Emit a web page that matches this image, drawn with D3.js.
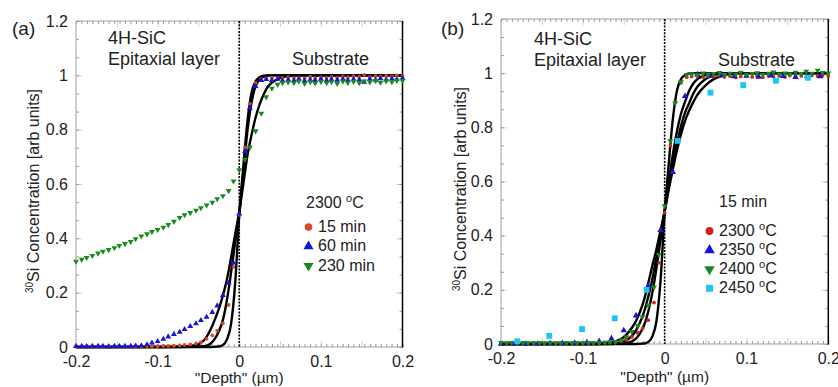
<!DOCTYPE html>
<meta charset="utf-8">
<script src="https://d3js.org/d3.v7.min.js"></script>
<body>
    <div id="viz"></div>
</body>
<style>
    body { margin: 0; background: #fff; }
    text { font-family: "Liberation Sans", Arial, sans-serif; fill: #222; }
</style>
<script>
    // depth grid of the dense SIMS profiles (µm)
    let depth = [-0.2, -0.193, -0.187, -0.18, -0.173, -0.167, -0.16, -0.153, -0.147, -0.14,
        -0.133, -0.127, -0.12, -0.113, -0.107, -0.1, -0.093, -0.087, -0.08, -0.073,
        -0.067, -0.06, -0.053, -0.047, -0.04, -0.033, -0.027, -0.02, -0.013, -0.007,
        0,
        0.007, 0.013, 0.02, 0.027, 0.033, 0.04, 0.047, 0.053, 0.06,
        0.067, 0.073, 0.08, 0.087, 0.093, 0.1, 0.107, 0.113, 0.12, 0.127,
        0.133, 0.14, 0.147, 0.153, 0.16, 0.167, 0.173, 0.18, 0.187, 0.193,
        0.2];

    // (a) 2300 °C, annealing time
    let a15 = [0.002,0.002,0.002,0.002,0.002,0.002,0.002,0.002,0.002,0.002,
        0.002,0.002,0.002,0.003,0.003,0.003,0.004,0.004,0.005,0.006,
        0.008,0.01,0.013,0.018,0.03,0.043,0.06,0.087,0.155,0.295,
        0.487,
        0.735,0.895,0.972,0.987,0.99,0.992,0.988,0.99,0.993,
        0.99,0.992,0.989,0.995,0.99,0.993,0.991,0.994,0.992,0.996,
        0.993,0.997,0.995,1.002,0.994,0.997,0.995,0.998,0.996,1.0,
        0.998];
    let a60 = [0.003,0.003,0.002,0.003,0.003,0.003,0.002,0.003,0.003,0.003,
        0.003,0.004,0.005,0.009,0.015,0.021,0.029,0.038,0.047,0.055,
        0.065,0.076,0.086,0.098,0.11,0.128,0.152,0.19,0.235,0.31,
        0.49,
        0.72,0.88,0.96,0.982,0.985,0.982,0.986,0.98,0.984,
        0.981,0.986,0.98,0.984,0.982,0.986,0.981,0.985,0.983,0.987,
        0.982,0.985,0.984,0.975,0.986,0.983,0.988,0.984,0.987,0.985,
        0.99];
    let a230 = [0.315,0.322,0.329,0.336,0.345,0.352,0.358,0.365,0.373,0.38,
        0.388,0.398,0.408,0.416,0.424,0.432,0.44,0.45,0.462,0.476,
        0.486,0.494,0.503,0.512,0.522,0.532,0.545,0.556,0.575,0.61,
        0.652,
        0.69,0.735,0.795,0.86,0.92,0.952,0.966,0.972,0.975,
        0.972,0.978,0.97,0.976,0.971,0.977,0.972,0.976,0.97,0.978,
        0.973,0.977,0.972,0.978,0.975,0.98,0.974,0.979,0.976,0.981,
        0.98];

    // (b) 15 min, annealing temperature
    let b2300 = [0.004,0.003,0.003,0.004,0.003,0.003,0.004,0.003,0.003,0.004,
        0.003,0.003,0.004,0.003,0.003,0.004,0.003,0.004,0.004,0.005,
        0.006,0.007,0.01,0.016,0.026,0.042,0.057,0.088,0.153,0.3,
        0.485,
        0.732,0.892,0.965,0.985,0.988,0.99,0.985,0.99,0.987,
        0.991,0.986,0.989,0.984,0.988,0.99,0.986,0.989,0.985,0.99,
        0.987,0.99,0.986,0.991,0.988,0.99,0.987,0.992,0.989,0.991,
        0.99];
    let depth2350 = [-0.2,-0.185,-0.17,-0.155,-0.14,-0.125,-0.11,-0.095,-0.08,-0.065,
        -0.05,-0.035,-0.02,-0.005,0.01,0.025,0.04,0.055,0.07,0.085,
        0.1,0.115,0.13,0.145,0.16,0.175,0.19];
    let b2350 = [0,0,0,0.001,0.002,0.003,0.004,0.006,0.01,0.02,
        0.05,0.105,0.215,0.42,0.635,0.915,0.995,0.99,0.992,0.988,
        0.99,0.986,0.991,0.989,0.985,0.99,0.988];
    let b2400 = [0.005,0.004,0.005,0.004,0.005,0.004,0.004,0.005,0.004,0.005,
        0.004,0.004,0.005,0.004,0.005,0.004,0.005,0.004,0.005,0.006,
        0.007,0.008,0.014,0.026,0.045,0.068,0.1,0.143,0.21,0.33,
        0.51,
        0.75,0.89,0.968,0.993,0.997,0.993,1.0,0.995,0.998,
        1.002,0.994,0.999,0.996,1.003,0.995,0.998,1.001,0.994,0.999,
        1.004,0.996,1.0,0.997,1.003,0.998,1.006,0.999,1.01,1.002,
        1.0];
    let depth2450 = [-0.18,-0.141,-0.101,-0.061,-0.022,0.016,0.056,0.096,0.136,0.175];
    let b2450 = [0.01,0.03,0.055,0.095,0.2,0.75,0.928,0.956,0.972,0.983];

    // fitted profiles (black lines)
    let fitDepth = [-0.2, -0.1, -0.08, -0.07, -0.06, -0.05, -0.04, -0.035, -0.03, -0.025,
        -0.02, -0.015, -0.01, -0.005, 0, 0.005, 0.01, 0.015, 0.02, 0.025,
        0.03, 0.035, 0.04, 0.05, 0.06, 0.07, 0.08, 0.1, 0.2];
    let fitA15 = [0,0,0,0,0,0,0,0,0.001,0.002,0.007,0.028,0.085,0.235,0.485,
        0.665,0.83,0.935,0.978,0.993,0.999,1,1,1,1,1,1,1,1];
    let fitA60 = [0,0,0,0,0.001,0.002,0.005,0.013,0.03,0.058,0.1,0.175,0.275,0.385,0.488,
        0.64,0.795,0.9,0.96,0.985,0.995,0.999,1,1,1,1,1,1,1];
    let fitA230 = [0,0,0.001,0.002,0.004,0.01,0.037,0.065,0.1,0.14,0.19,0.25,0.33,0.415,0.5,
        0.6,0.705,0.78,0.845,0.893,0.93,0.958,0.973,0.99,0.997,1,1,1,1];
    let fitB2300 = [0,0,0,0,0,0,0,0,0.001,0.002,0.007,0.028,0.085,0.235,0.485,
        0.665,0.83,0.935,0.978,0.993,0.999,1,1,1,1,1,1,1,1];
    let fitB2350 = [0,0,0,0,0.001,0.003,0.01,0.02,0.04,0.07,0.12,0.19,0.28,0.385,0.49,
        0.6,0.7,0.785,0.85,0.895,0.935,0.962,0.978,0.993,0.999,1,1,1,1];
    let fitB2400 = [0,0,0,0.001,0.002,0.009,0.03,0.05,0.08,0.12,0.175,0.24,0.32,0.405,0.49,
        0.58,0.665,0.74,0.805,0.855,0.89,0.925,0.95,0.978,0.993,0.999,1,1,1];
    let fitB2450 = [0,0,0.001,0.004,0.01,0.025,0.06,0.085,0.12,0.165,0.225,0.29,0.35,0.42,0.49,
        0.57,0.645,0.715,0.775,0.825,0.862,0.893,0.92,0.955,0.978,0.99,0.997,1,1];

    let yTicks = [0, 0.2, 0.4, 0.6, 0.8, 1, 1.2];
    let xTicks = [-0.2, -0.1, 0, 0.1, 0.2];
    let xMajorMarks = [-0.15, -0.1, -0.05, 0, 0.05, 0.1, 0.15];
    let legendTimes = ["15 min", "60 min", "230 min"];
    let legendTemps = ["2300", "2350", "2400", "2450"];

    let svg = d3.select("#viz")
        .append("svg")
        .attr("width", 838)
        .attr("height", 387);

    let fmt = d => d3.format("~g")(d).replace("\u2212", "-");

    function drawPanel(p) {
        let x = d3.scaleLinear().domain([-0.2, 0.2]).range([p.left, p.right]);
        let y = d3.scaleLinear().domain([0, 1.2]).range([p.bottom, p.top]);
        let g = svg.append("g");

        let yMinor = d3.range(0, 1.2001, 0.2 / 3);
        let xMinor = d3.range(-0.2, 0.2001, 0.2 / 30);

        // inward ticks on all four sides
        let sides = [
            [d3.axisLeft(y), yMinor, yTicks, `translate(${p.left},0)`],
            [d3.axisRight(y), yMinor, yTicks, `translate(${p.right},0)`],
            [d3.axisTop(x), xMinor, xMajorMarks, `translate(0,${p.top})`],
            [d3.axisBottom(x), xMinor, xMajorMarks, `translate(0,${p.bottom})`]
        ];
        sides.forEach(function(s) {
            let major = g.append("g").attr("transform", s[3])
                .call(s[0].tickValues(s[2]).tickSizeInner(-6).tickSizeOuter(0).tickFormat(""));
            major.select(".domain").remove();
            major.selectAll(".tick line").attr("stroke", "#d0d0d0");
            let minor = g.append("g").attr("transform", s[3])
                .call(s[0].tickValues(s[1]).tickSizeInner(-3).tickSizeOuter(0).tickFormat(""));
            minor.select(".domain").remove();
            minor.selectAll(".tick line").attr("stroke", "#9a9a9a");
        });

        // tick labels
        let yl = g.append("g").attr("transform", `translate(${p.left},0)`)
            .call(d3.axisLeft(y).tickValues(yTicks).tickSize(0).tickPadding(8).tickFormat(fmt));
        yl.select(".domain").remove();
        let xl = g.append("g").attr("transform", `translate(0,${p.bottom})`)
            .call(d3.axisBottom(x).tickValues(xTicks).tickSize(0).tickPadding(8.6).tickFormat(fmt));
        xl.select(".domain").remove();
        g.selectAll(".tick text")
            .attr("font-family", '"Liberation Sans", Arial, sans-serif')
            .style("font-size", "16px")
            .attr("fill", "#222");

        // frame: grey left/top/bottom, black right
        g.append("line").attr("x1", p.left).attr("x2", p.left).attr("y1", p.top).attr("y2", p.bottom)
            .attr("stroke", "#a0a0a0");
        g.append("line").attr("x1", p.left).attr("x2", p.right).attr("y1", p.top).attr("y2", p.top)
            .attr("stroke", "#a0a0a0");
        g.append("line").attr("x1", p.left).attr("x2", p.right).attr("y1", p.bottom).attr("y2", p.bottom)
            .attr("stroke", "#a0a0a0");
        g.append("line").attr("x1", p.right).attr("x2", p.right).attr("y1", p.top).attr("y2", p.bottom + 0.5)
            .attr("stroke", "#000").attr("stroke-width", 1.5);

        // interface marker
        g.append("line")
            .attr("x1", x(0)).attr("x2", x(0))
            .attr("y1", p.top).attr("y2", p.bottom)
            .attr("stroke", "#000").attr("stroke-width", 1.6)
            .attr("stroke-dasharray", "2,1.3");

        // fitted curves
        let line = d3.line()
            .x(d => x(d[0]))
            .y(d => y(d[1]))
            .curve(d3.curveMonotoneX);
        p.fits.forEach(function(f) {
            g.append("path")
                .datum(d3.zip(fitDepth, f))
                .attr("d", line)
                .attr("fill", "none")
                .attr("stroke", "#000")
                .attr("stroke-width", 2.4);
        });

        // measured points
        p.series.forEach(function(s) {
            g.append("g")
                .selectAll("path")
                .data(d3.zip(s.x, s.y))
                .enter()
                .append("path")
                    .attr("transform", d => `translate(${x(d[0])},${y(d[1])})` + (s.down ? " rotate(180)" : ""))
                    .attr("d", d3.symbol().type(s.type).size(s.size))
                    .attr("fill", s.color);
        });

        // axis titles
        g.append("text")
            .attr("x", x(0))
            .attr("y", p.xTitleY)
            .attr("text-anchor", "middle")
            .style("font-size", "15.5px")
            .text("\"Depth\" (\u00b5m)");
        let yt = g.append("text")
            .attr("transform", `translate(${p.yTitleX},${p.yTitleY}) rotate(-90)`)
            .attr("text-anchor", "middle")
            .style("font-size", "16px");
        yt.append("tspan").attr("dy", -6).style("font-size", "10px").text("30");
        yt.append("tspan").attr("dy", 6).text("Si Concentration [arb units]");

        // panel letter and region labels
        g.append("text").attr("x", p.labelX).attr("y", 35).style("font-size", "19px").text(p.label);
        g.append("text").attr("x", p.epiX).attr("y", p.epiY).style("font-size", "18px").text("4H-SiC");
        g.append("text").attr("x", p.epiX).attr("y", p.epiY + 21).style("font-size", "18px").text("Epitaxial layer");
        g.append("text").attr("x", p.subX).attr("y", p.epiY + 21).style("font-size", "18px").text("Substrate");

        // legend
        let lg = g.append("g").style("font-size", "16px");
        let head = lg.append("text").attr("x", p.legend.headX).attr("y", p.legend.headY);
        p.legend.head(head);
        p.series.forEach(function(s, i) {
            let ly = p.legend.rowY + i * p.legend.step;
            lg.append("path")
                .attr("transform", `translate(${p.legend.markX},${ly - 5})` + (s.down ? " rotate(180)" : ""))
                .attr("d", d3.symbol().type(s.type).size(s.legendSize))
                .attr("fill", s.color);
            let t = lg.append("text").attr("x", p.legend.textX).attr("y", ly);
            p.legend.item(t, p.legend.labels[i]);
        });
    }

    function degC(t, value) {
        t.append("tspan").text(value + " ");
        t.append("tspan").attr("dy", -6).style("font-size", "11px").text("o");
        t.append("tspan").attr("dy", 6).text("C");
    }

    drawPanel({
        left: 76, right: 402.5, top: 21, bottom: 347,
        label: "(a)", labelX: 12,
        epiX: 108, epiY: 44, subX: 292,
        xTitleY: 383, yTitleX: 39, yTitleY: 191,
        fits: [fitA15, fitA60, fitA230],
        series: [
            {x: depth, y: a15, type: d3.symbolCircle, size: 11, color: "#e2461e", legendSize: 44},
            {x: depth, y: a60, type: d3.symbolTriangle, size: 15, color: "#1414dc", legendSize: 44},
            {x: depth, y: a230, type: d3.symbolTriangle, size: 15, color: "#178a1e", down: true, legendSize: 44}
        ],
        legend: {
            headX: 306, headY: 208, head: t => degC(t, "2300"),
            labels: legendTimes, item: (t, v) => t.text(v),
            markX: 308.5, textX: 318, rowY: 232, step: 19.4
        }
    });

    drawPanel({
        left: 501, right: 828.3, top: 19, bottom: 344,
        label: "(b)", labelX: 441,
        epiX: 534, epiY: 45, subX: 718,
        xTitleY: 382, yTitleX: 466, yTitleY: 189,
        fits: [fitB2300, fitB2350, fitB2400, fitB2450],
        series: [
            {x: depth, y: b2300, type: d3.symbolCircle, size: 11, color: "#d0241c", legendSize: 48},
            {x: depth2350, y: b2350, type: d3.symbolTriangle, size: 18, color: "#1414dc", legendSize: 48},
            {x: depth, y: b2400, type: d3.symbolTriangle, size: 15, color: "#178a1e", down: true, legendSize: 48},
            {x: depth2450, y: b2450, type: d3.symbolSquare, size: 34, color: "#1ec4f4", legendSize: 48}
        ],
        legend: {
            headX: 719, headY: 207, head: t => t.text("15 min"),
            labels: legendTemps, item: (t, v) => degC(t, v),
            markX: 709.5, textX: 719, rowY: 236, step: 19.1
        }
    });
</script>
